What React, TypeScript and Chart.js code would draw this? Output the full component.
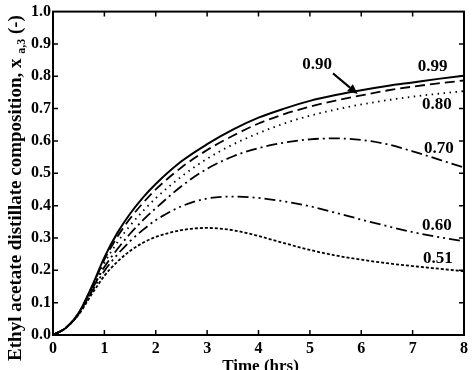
import React, { useEffect, useRef } from "react";
import { Chart, registerables } from "chart.js";

Chart.register(...registerables);

const TIME = [0, 0.25, 0.5, 0.75, 1, 1.25, 1.5, 1.75, 2, 2.5, 3, 3.5, 4, 4.5, 5, 5.5, 6, 6.5, 7, 7.5, 8];

const S099 = [0, 0.022, 0.068, 0.148, 0.24, 0.315, 0.375, 0.425, 0.467, 0.537, 0.59, 0.635, 0.672, 0.7, 0.724, 0.742, 0.757, 0.77, 0.781, 0.792, 0.802];
const S090 = [0, 0.022, 0.068, 0.146, 0.233, 0.303, 0.36, 0.408, 0.45, 0.518, 0.572, 0.616, 0.654, 0.683, 0.706, 0.725, 0.741, 0.756, 0.768, 0.778, 0.787];
const S080 = [0, 0.022, 0.067, 0.142, 0.222, 0.286, 0.338, 0.383, 0.423, 0.49, 0.545, 0.589, 0.624, 0.654, 0.678, 0.697, 0.713, 0.726, 0.737, 0.746, 0.754];
const S070 = [0, 0.022, 0.066, 0.138, 0.21, 0.265, 0.313, 0.355, 0.392, 0.46, 0.514, 0.552, 0.578, 0.595, 0.605, 0.608, 0.603, 0.59, 0.568, 0.543, 0.518];
const S060 = [0, 0.022, 0.065, 0.133, 0.198, 0.248, 0.29, 0.325, 0.355, 0.398, 0.422, 0.428, 0.424, 0.413, 0.398, 0.378, 0.357, 0.337, 0.318, 0.303, 0.29];
const S051 = [0, 0.022, 0.063, 0.125, 0.183, 0.226, 0.26, 0.285, 0.303, 0.324, 0.331, 0.324, 0.306, 0.284, 0.263, 0.246, 0.233, 0.222, 0.213, 0.205, 0.197];

const SERIES_NAMES = ["0.99", "0.90", "0.80", "0.70", "0.60", "0.51"];
const SERIES_VALUES = [S099, S090, S080, S070, S060, S051];
const SERIES_DASH: number[][] = [[], [10, 5], [1.5, 4.5], [11, 4, 2, 4], [11, 4, 2, 4, 2, 4], [3, 2]];

// curve labels: [text, time, value]
const LABEL_TEXT = ["0.90", "0.99", "0.80", "0.70", "0.60", "0.51"];
const LABEL_T = [5.14, 7.39, 7.47, 7.51, 7.47, 7.49];
const LABEL_V = [0.837, 0.831, 0.711, 0.575, 0.338, 0.237];

// arrow for 0.90 label: tail -> tip
const ARROW_T = [5.45, 5.93];
const ARROW_V = [0.809, 0.745];

const X_TITLE = "Time (hrs)";
const Y_TITLE_MAIN = "Ethyl acetate distillate composition, x";
const Y_TITLE_SUB = "a,3";
const Y_TITLE_END = " (-)";

const FONT = "'Liberation Serif', 'DejaVu Serif', serif";

const decorPlugin = {
  id: "decor",
  afterDraw(chart: any) {
    const ctx = chart.ctx;
    const area = chart.chartArea;
    const xs = chart.scales.x;
    const ys = chart.scales.y;
    ctx.save();
    // frame
    ctx.strokeStyle = "#000";
    ctx.lineWidth = 2;
    ctx.strokeRect(area.left, area.top, area.right - area.left, area.bottom - area.top);
    // inward ticks
    const tl = 5;
    ctx.lineWidth = 1.5;
    ctx.beginPath();
    xs.ticks.forEach((t: any) => {
      if (t.value <= xs.min || t.value >= xs.max) return;
      const px = xs.getPixelForValue(t.value);
      ctx.moveTo(px, area.bottom);
      ctx.lineTo(px, area.bottom - tl);
      ctx.moveTo(px, area.top);
      ctx.lineTo(px, area.top + tl);
    });
    ys.ticks.forEach((t: any) => {
      if (t.value <= ys.min + 1e-9 || t.value >= ys.max - 1e-9) return;
      const py = ys.getPixelForValue(t.value);
      ctx.moveTo(area.left, py);
      ctx.lineTo(area.left + tl, py);
      ctx.moveTo(area.right, py);
      ctx.lineTo(area.right - tl, py);
    });
    ctx.stroke();

    // curve labels
    ctx.fillStyle = "#000";
    ctx.font = `bold 17px ${FONT}`;
    ctx.textAlign = "center";
    ctx.textBaseline = "middle";
    LABEL_TEXT.forEach((txt, i) => {
      ctx.fillText(txt, xs.getPixelForValue(LABEL_T[i]), ys.getPixelForValue(LABEL_V[i]));
    });

    // arrow
    const x0 = xs.getPixelForValue(ARROW_T[0]);
    const y0 = ys.getPixelForValue(ARROW_V[0]);
    const x1 = xs.getPixelForValue(ARROW_T[1]);
    const y1 = ys.getPixelForValue(ARROW_V[1]);
    const ang = Math.atan2(y1 - y0, x1 - x0);
    const hl = 10;
    const hw = 4.5;
    const bx = x1 - hl * Math.cos(ang);
    const by = y1 - hl * Math.sin(ang);
    ctx.lineWidth = 2;
    ctx.beginPath();
    ctx.moveTo(x0, y0);
    ctx.lineTo(bx, by);
    ctx.stroke();
    ctx.beginPath();
    ctx.moveTo(x1, y1);
    ctx.lineTo(bx + hw * Math.sin(ang), by - hw * Math.cos(ang));
    ctx.lineTo(bx - hw * Math.sin(ang), by + hw * Math.cos(ang));
    ctx.closePath();
    ctx.fill();

    // x title
    ctx.font = `bold 17px ${FONT}`;
    ctx.textAlign = "center";
    ctx.textBaseline = "alphabetic";
    ctx.fillText(X_TITLE, (area.left + area.right) / 2 + 2, 371);

    // y title with subscript
    const mainFont = `bold 19px ${FONT}`;
    const subFont = `bold 12px ${FONT}`;
    ctx.font = mainFont;
    const w1 = ctx.measureText(Y_TITLE_MAIN + " ").width;
    const w3 = ctx.measureText(Y_TITLE_END).width;
    ctx.font = subFont;
    const w2 = ctx.measureText(Y_TITLE_SUB).width;
    const total = w1 + w2 + w3;
    ctx.translate(21, 188);
    ctx.rotate(-Math.PI / 2);
    ctx.textAlign = "left";
    let cx = -total / 2;
    ctx.font = mainFont;
    ctx.fillText(Y_TITLE_MAIN + " ", cx, 0);
    cx += w1;
    ctx.font = subFont;
    ctx.fillText(Y_TITLE_SUB, cx, 4);
    cx += w2;
    ctx.font = mainFont;
    ctx.fillText(Y_TITLE_END, cx, 0);
    ctx.restore();
  },
};

export default function App() {
  const ref = useRef<HTMLCanvasElement | null>(null);
  useEffect(() => {
    document.body.style.margin = "0";
    const canvas = ref.current;
    if (!canvas) return;
    const datasets = SERIES_NAMES.map((name, i) => ({
      label: name,
      data: TIME.map((t, j) => ({ x: t, y: SERIES_VALUES[i][j] })),
      borderColor: "#000",
      borderWidth: i === 0 ? 2 : 1.8,
      borderDash: SERIES_DASH[i],
      pointRadius: 0,
      fill: false,
      cubicInterpolationMode: "monotone" as const,
    }));
    const chart = new Chart(canvas, {
      type: "line",
      data: { datasets },
      options: {
        animation: false,
        responsive: false,
        layout: { padding: { top: 10, right: 11, left: 0, bottom: 0 } },
        plugins: { legend: { display: false }, tooltip: { enabled: false } },
        scales: {
          x: {
            type: "linear",
            min: 0,
            max: 8,
            grid: { display: false, drawTicks: false },
            border: { display: false },
            ticks: {
              stepSize: 1,
              padding: 4,
              color: "#000",
              font: { family: FONT, size: 16, weight: "bold" },
              maxRotation: 0,
              callback: (v: any) => String(v),
            },
            afterFit: (s: any) => {
              s.height = 35;
            },
          },
          y: {
            type: "linear",
            min: 0,
            max: 1,
            grid: { display: false, drawTicks: false },
            border: { display: false },
            ticks: {
              stepSize: 0.1,
              padding: 2,
              color: "#000",
              font: { family: FONT, size: 16, weight: "bold" },
              callback: (v: any) => Number(v).toFixed(1),
            },
            afterFit: (s: any) => {
              s.width = 53;
            },
          },
        },
      },
      plugins: [decorPlugin],
    });
    return () => chart.destroy();
  }, []);
  return (
    <div style={{ width: 475, height: 370 }}>
      <canvas ref={ref} width={475} height={370} />
    </div>
  );
}
